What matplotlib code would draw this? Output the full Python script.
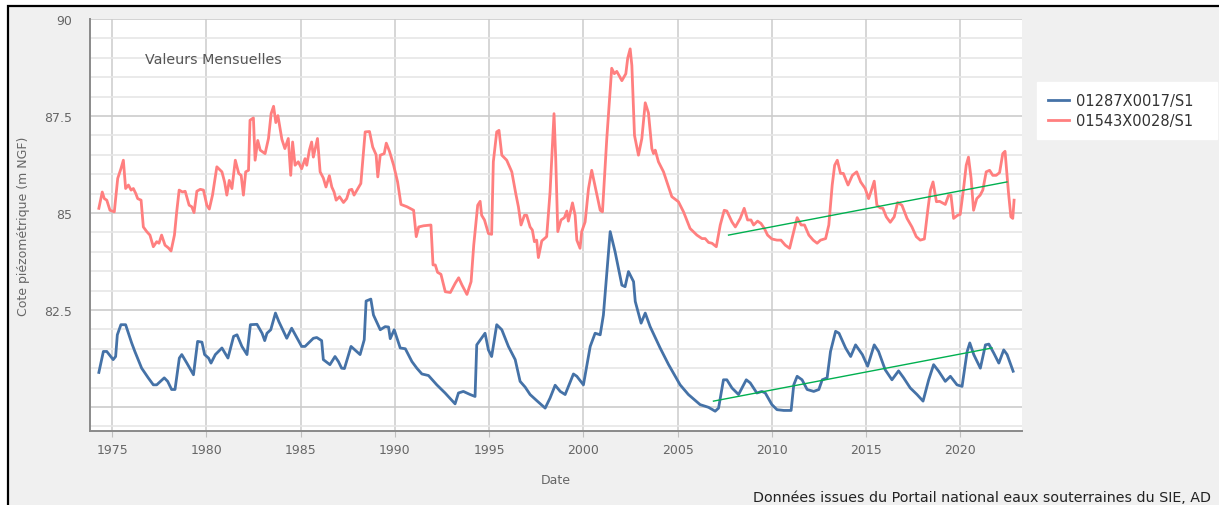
import matplotlib
matplotlib.use("Agg")
import matplotlib.pyplot as plt
from matplotlib.patches import Rectangle

# Piézomètre 01287X0017/S1 (courbe bleue) : dates (années décimales) et cotes (m NGF)
dates_bleu = [1974.29, 1974.53, 1974.71, 1975.05, 1975.18, 1975.27, 1975.46, 1975.71, 1976.03, 1976.20,
              1976.56, 1976.91, 1977.18, 1977.36, 1977.76, 1977.94, 1978.15, 1978.33, 1978.56, 1978.69,
              1978.96, 1979.31, 1979.53, 1979.76, 1979.90, 1980.11, 1980.24, 1980.47, 1980.82, 1981.14,
              1981.44, 1981.62, 1981.88, 1982.15, 1982.33, 1982.68, 1982.95, 1983.09, 1983.21, 1983.41,
              1983.66, 1983.84, 1984.26, 1984.52, 1985.05, 1985.23, 1985.67, 1985.85, 1986.11, 1986.20,
              1986.55, 1986.82, 1987.00, 1987.17, 1987.32, 1987.67, 1988.15, 1988.37, 1988.47, 1988.72,
              1988.86, 1989.22, 1989.48, 1989.66, 1989.75, 1989.96, 1990.28, 1990.55, 1990.90, 1991.16,
              1991.43, 1991.78, 1992.22, 1992.66, 1993.19, 1993.37, 1993.63, 1993.99, 1994.25, 1994.34,
              1994.78, 1994.96, 1995.13, 1995.40, 1995.67, 1996.02, 1996.38, 1996.64, 1996.91, 1997.17,
              1997.53, 1997.97, 1998.23, 1998.50, 1998.77, 1999.03, 1999.47, 1999.65, 2000.00, 2000.36,
              2000.62, 2000.89, 2001.06, 2001.42, 2001.68, 2002.04, 2002.21, 2002.39, 2002.66, 2002.75,
              2003.06, 2003.28, 2003.54, 2004.07, 2004.52, 2005.13, 2005.57, 2006.19, 2006.64, 2006.99,
              2007.17, 2007.43, 2007.61, 2007.88, 2008.23, 2008.64, 2008.85, 2009.20, 2009.47, 2009.65,
              2010.00, 2010.27, 2010.63, 2011.02, 2011.16, 2011.34, 2011.60, 2011.87, 2012.22, 2012.49,
              2012.67, 2012.93, 2013.11, 2013.38, 2013.56, 2013.91, 2014.18, 2014.44, 2014.80, 2015.08,
              2015.43, 2015.66, 2016.01, 2016.37, 2016.72, 2016.99, 2017.34, 2017.70, 2018.02, 2018.32,
              2018.58, 2018.85, 2019.20, 2019.47, 2019.82, 2020.09, 2020.36, 2020.50, 2020.71, 2021.06,
              2021.33, 2021.51, 2021.77, 2022.04, 2022.30, 2022.48, 2022.80]
cotes_bleu = [80.89, 81.43, 81.43, 81.22, 81.30, 81.86, 82.12, 82.12, 81.65, 81.43,
              81.00, 80.75, 80.57, 80.57, 80.75, 80.66, 80.45, 80.45, 81.26, 81.35,
              81.13, 80.83, 81.69, 81.67, 81.35, 81.26, 81.13, 81.35, 81.52, 81.26,
              81.82, 81.86, 81.56, 81.35, 82.12, 82.13, 81.90, 81.71, 81.90, 81.99,
              82.42, 82.20, 81.77, 82.03, 81.56, 81.56, 81.77, 81.79, 81.71, 81.22,
              81.09, 81.30, 81.17, 81.00, 80.99, 81.56, 81.35, 81.73, 82.73, 82.78,
              82.37, 81.99, 82.07, 82.06, 81.76, 81.99, 81.52, 81.50, 81.17, 81.00,
              80.85, 80.81, 80.57, 80.36, 80.08, 80.36, 80.40, 80.32, 80.27, 81.60,
              81.90, 81.47, 81.30, 82.12, 81.99, 81.56, 81.22, 80.66, 80.51, 80.32,
              80.16, 79.97, 80.23, 80.56, 80.40, 80.32, 80.85, 80.79, 80.57, 81.56,
              81.90, 81.86, 82.37, 84.52, 84.00, 83.14, 83.10, 83.49, 83.23, 82.72,
              82.16, 82.42, 82.07, 81.52, 81.09, 80.57, 80.32, 80.06, 79.99, 79.89,
              79.97, 80.70, 80.70, 80.49, 80.32, 80.70, 80.62, 80.36, 80.40, 80.36,
              80.06, 79.93, 79.91, 79.91, 80.57, 80.79, 80.70, 80.45, 80.40, 80.45,
              80.70, 80.75, 81.43, 81.95, 81.90, 81.52, 81.30, 81.60, 81.35, 81.05,
              81.60, 81.43, 80.96, 80.70, 80.93, 80.75, 80.49, 80.32, 80.15, 80.70,
              81.09, 80.92, 80.66, 80.79, 80.57, 80.53, 81.43, 81.65, 81.35, 81.00,
              81.60, 81.62, 81.39, 81.13, 81.47, 81.35, 80.92]

# Piézomètre 01543X0028/S1 (courbe rouge)
dates_rouge = [1974.29, 1974.47, 1974.58, 1974.71, 1974.88, 1975.11, 1975.29, 1975.46, 1975.59, 1975.71,
               1975.86, 1976.00, 1976.12, 1976.25, 1976.35, 1976.53, 1976.65, 1976.83, 1977.00, 1977.18,
               1977.36, 1977.48, 1977.62, 1977.80, 1977.98, 1978.12, 1978.30, 1978.42, 1978.55, 1978.73,
               1978.87, 1979.08, 1979.22, 1979.34, 1979.49, 1979.67, 1979.84, 1980.02, 1980.15, 1980.32,
               1980.55, 1980.82, 1980.96, 1981.08, 1981.21, 1981.35, 1981.53, 1981.71, 1981.84, 1981.96,
               1982.08, 1982.23, 1982.31, 1982.49, 1982.58, 1982.72, 1982.85, 1983.11, 1983.29, 1983.43,
               1983.56, 1983.68, 1983.79, 1984.00, 1984.16, 1984.34, 1984.47, 1984.57, 1984.70, 1984.87,
               1985.05, 1985.23, 1985.32, 1985.46, 1985.58, 1985.67, 1985.89, 1986.03, 1986.20, 1986.34,
               1986.52, 1986.65, 1986.77, 1986.88, 1987.06, 1987.27, 1987.44, 1987.58, 1987.71, 1987.83,
               1988.19, 1988.42, 1988.65, 1988.82, 1989.00, 1989.09, 1989.22, 1989.43, 1989.54, 1989.71,
               1989.93, 1990.14, 1990.32, 1990.64, 1990.99, 1991.13, 1991.26, 1991.52, 1991.91, 1992.02,
               1992.14, 1992.26, 1992.44, 1992.67, 1992.94, 1993.20, 1993.38, 1993.56, 1993.82, 1994.04,
               1994.18, 1994.39, 1994.52, 1994.60, 1994.75, 1994.96, 1995.13, 1995.22, 1995.40, 1995.52,
               1995.67, 1995.93, 1996.20, 1996.41, 1996.55, 1996.69, 1996.87, 1996.99, 1997.17, 1997.29,
               1997.40, 1997.52, 1997.61, 1997.79, 1998.05, 1998.23, 1998.44, 1998.53, 1998.64, 1998.81,
               1998.99, 1999.12, 1999.20, 1999.42, 1999.56, 1999.65, 1999.82, 1999.91, 2000.09, 2000.27,
               2000.44, 2000.66, 2000.89, 2001.01, 2001.24, 2001.50, 2001.64, 2001.77, 2002.04, 2002.25,
               2002.35, 2002.48, 2002.57, 2002.71, 2002.92, 2003.10, 2003.28, 2003.45, 2003.63, 2003.72,
               2003.81, 2003.98, 2004.25, 2004.52, 2004.69, 2005.04, 2005.31, 2005.66, 2006.02, 2006.29,
               2006.46, 2006.64, 2006.82, 2007.05, 2007.26, 2007.47, 2007.61, 2007.88, 2008.06, 2008.32,
               2008.53, 2008.71, 2008.89, 2009.03, 2009.24, 2009.42, 2009.60, 2009.77, 2010.00, 2010.27,
               2010.48, 2010.71, 2010.94, 2011.16, 2011.34, 2011.55, 2011.73, 2011.96, 2012.19, 2012.40,
               2012.58, 2012.85, 2013.02, 2013.20, 2013.33, 2013.47, 2013.64, 2013.79, 2014.04, 2014.27,
               2014.50, 2014.71, 2014.95, 2015.13, 2015.25, 2015.43, 2015.57, 2015.75, 2015.89, 2016.07,
               2016.28, 2016.49, 2016.67, 2016.90, 2017.17, 2017.43, 2017.66, 2017.87, 2018.09, 2018.27,
               2018.41, 2018.55, 2018.73, 2018.90, 2019.20, 2019.38, 2019.50, 2019.64, 2019.85, 2019.99,
               2020.17, 2020.31, 2020.43, 2020.57, 2020.70, 2020.87, 2021.05, 2021.19, 2021.37, 2021.55,
               2021.72, 2021.90, 2022.08, 2022.25, 2022.37, 2022.55, 2022.68, 2022.78, 2022.85]
cotes_rouge = [85.12, 85.54, 85.37, 85.33, 85.07, 85.03, 85.89, 86.14, 86.36, 85.63,
               85.72, 85.59, 85.63, 85.50, 85.37, 85.33, 84.64, 84.52, 84.43, 84.13,
               84.26, 84.22, 84.43, 84.17, 84.10, 84.02, 84.43, 85.03, 85.59, 85.54,
               85.56, 85.20, 85.16, 85.01, 85.56, 85.61, 85.59, 85.20, 85.10, 85.46,
               86.19, 86.06, 85.80, 85.46, 85.84, 85.63, 86.36, 86.02, 85.97, 85.46,
               86.06, 86.10, 87.39, 87.45, 86.36, 86.87, 86.62, 86.53, 86.92, 87.56,
               87.75, 87.33, 87.51, 86.90, 86.66, 86.92, 85.97, 86.83, 86.23, 86.32,
               86.14, 86.40, 86.23, 86.62, 86.83, 86.44, 86.92, 86.06, 85.90, 85.67,
               85.96, 85.67, 85.54, 85.33, 85.42, 85.27, 85.37, 85.59, 85.61, 85.46,
               85.76, 87.09, 87.10, 86.70, 86.50, 85.93, 86.49, 86.53, 86.80, 86.59,
               86.23, 85.80, 85.22, 85.16, 85.07, 84.39, 84.64, 84.67, 84.69, 83.66,
               83.66, 83.47, 83.42, 82.97, 82.95, 83.19, 83.33, 83.14, 82.90, 83.23,
               84.17, 85.20, 85.30, 84.94, 84.82, 84.47, 84.45, 86.32, 87.09, 87.13,
               86.49, 86.36, 86.06, 85.50, 85.16, 84.69, 84.94, 84.94, 84.64, 84.56,
               84.26, 84.30, 83.85, 84.28, 84.39, 85.54, 87.56, 86.40, 84.52, 84.82,
               84.88, 85.05, 84.79, 85.26, 84.94, 84.30, 84.09, 84.52, 84.77, 85.63,
               86.10, 85.59, 85.07, 85.03, 86.92, 88.73, 88.59, 88.65, 88.41, 88.59,
               88.99, 89.23, 88.80, 87.00, 86.49, 86.92, 87.84, 87.58, 86.66, 86.53,
               86.62, 86.32, 86.06, 85.67, 85.42, 85.29, 85.03, 84.60, 84.43, 84.34,
               84.34, 84.24, 84.22, 84.13, 84.69, 85.07, 85.05, 84.77, 84.64, 84.86,
               85.12, 84.82, 84.82, 84.69, 84.79, 84.73, 84.60, 84.43, 84.33, 84.30,
               84.30, 84.17, 84.09, 84.52, 84.88, 84.69, 84.69, 84.43, 84.30, 84.22,
               84.30, 84.34, 84.69, 85.72, 86.23, 86.36, 86.02, 86.02, 85.72, 85.97,
               86.06, 85.80, 85.63, 85.37, 85.54, 85.82, 85.20, 85.13, 85.12, 84.90,
               84.76, 84.90, 85.27, 85.20, 84.86, 84.64, 84.39, 84.30, 84.33, 85.07,
               85.59, 85.80, 85.29, 85.30, 85.22, 85.46, 85.46, 84.86, 84.94, 84.96,
               85.63, 86.23, 86.44, 85.89, 85.07, 85.37, 85.46, 85.59, 86.06, 86.10,
               85.97, 85.97, 86.04, 86.53, 86.59, 85.54, 84.90, 84.86, 85.33]

# Tendances tracées à la main (début, fin)
tendance_bleu_x = [2006.90, 2021.68]
tendance_bleu_y = [80.15, 81.52]
tendance_rouge_x = [2007.70, 2022.47]
tendance_rouge_y = [84.43, 85.80]

annees_ticks = [1975, 1980, 1985, 1990, 1995, 2000, 2005, 2010, 2015, 2020]
cotes_ticks = [80, 82.5, 85, 87.5, 90]
cotes_labels = ["", "82.5", "85", "87.5", "90"]

W, H = 1219, 506
fig = plt.figure(figsize=(W / 100, H / 100), dpi=100, facecolor="white")

# Cadre gris avec bordure noire (capture d'écran)
cadre = Rectangle((8 / W, -0.1), 1.2, (H - 7) / H + 0.1, transform=fig.transFigure,
                  facecolor="#f0f0f0", edgecolor="black", lw=1.6, zorder=-10)
fig.add_artist(cadre)

ax = fig.add_axes([90 / W, 74 / H, 932 / W, 412 / H])
ax.set_facecolor("white")

ax.plot(dates_bleu, cotes_bleu, color="#4572a7", lw=2, label="01287X0017/S1", zorder=3)
ax.plot(dates_rouge, cotes_rouge, color="#ff7f7f", lw=2, label="01543X0028/S1", zorder=3)
ax.plot(tendance_bleu_x, tendance_bleu_y, color="#00b050", lw=1.0, zorder=4)
ax.plot(tendance_rouge_x, tendance_rouge_y, color="#00b050", lw=1.0, zorder=4)

ax.set_xlim(1973.82, 2023.27)
ax.set_ylim(79.38, 90)
ax.set_xticks(annees_ticks)
ax.set_yticks(cotes_ticks)
ax.set_yticklabels(cotes_labels)
ax.set_yticks([v / 2 for v in range(159, 181)], minor=True)

# Grille
ax.grid(True, which="major", axis="x", color="#cfcfcf", lw=1.2)
ax.grid(True, which="major", axis="y", color="#cccccc", lw=1.2)
ax.grid(True, which="minor", axis="y", color="#e6e6e6", lw=1.2)
ax.set_axisbelow(True)

for s in ["top", "right"]:
    ax.spines[s].set_visible(False)
for s in ["left", "bottom"]:
    ax.spines[s].set_color("#8a8a8a")
    ax.spines[s].set_linewidth(1.4)

ax.tick_params(axis="x", which="major", length=4, color="#c0c0c0", pad=5, labelsize=9, labelcolor="#666666")
ax.tick_params(axis="y", which="both", length=0, pad=13, labelsize=9, labelcolor="#666666")

ax.set_xlabel("Date", fontsize=9, color="#666666", labelpad=12)
ax.set_ylabel("Cote piézométrique (m NGF)", fontsize=9, color="#666666", labelpad=10)

ax.text(145 / W, (H - 60) / H, "Valeurs Mensuelles", transform=fig.transFigure,
        fontsize=10.3, color="#555555", va="center", ha="left")

leg = ax.legend(loc="upper left", bbox_to_anchor=(1037 / W, (H - 142) / H, 180 / W, 59 / H),
                bbox_transform=fig.transFigure, mode="expand",
                frameon=True, fancybox=False, framealpha=1, edgecolor="white", facecolor="white",
                fontsize=10.5, handlelength=1.45, handletextpad=0.45, labelspacing=0.35,
                borderpad=0.75, borderaxespad=0)
for t in leg.get_texts():
    t.set_color("#333333")

fig.text(753 / W, (H - 498) / H, "Données issues du Portail national eaux souterraines du SIE, AD",
         fontsize=10.3, color="#222222", va="center", ha="left")

plt.savefig("out.png", dpi=100, facecolor=fig.get_facecolor())
